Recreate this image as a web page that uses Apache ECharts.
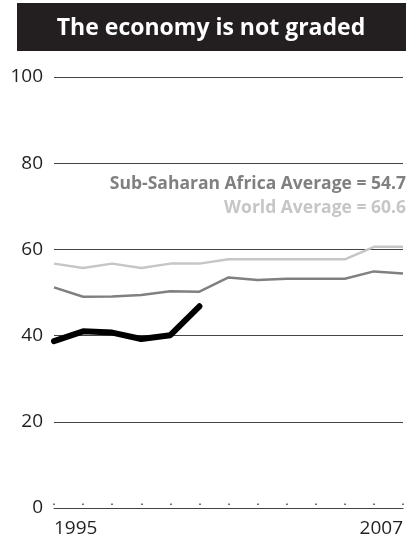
<!DOCTYPE html>
<html>
<head>
<meta charset="utf-8">
<script src="https://cdn.jsdelivr.net/npm/echarts@6/dist/echarts.min.js"></script>
<style>
  html, body { margin: 0; padding: 0; background: #fff; }
  #chart { width: 406px; height: 541px; }
</style>
</head>
<body>
<div id="chart"></div>
<script>
// years on the x axis
var years = ['1995', '1996', '1997', '1998', '1999', '2000', '2001', '2002', '2003', '2004', '2005', '2006', '2007']
// world average score
var worldAvg = [56.7, 55.7, 56.7, 55.7, 56.7, 56.7, 57.7, 57.7, 57.7, 57.7, 57.7, 60.6, 60.6]
// sub-saharan africa average score
var ssaAvg = [51.2, 49.0, 49.1, 49.4, 50.3, 50.2, 53.5, 52.9, 53.2, 53.2, 53.2, 54.9, 54.4]
// the country, only up to 2000
var country = [38.7, 41.0, 40.7, 39.2, 40.1, 46.8, null, null, null, null, null, null, null]
var yTicks = [0, 20, 40, 60, 80, 100]

var myChart = echarts.init(document.getElementById('chart'))

myChart.setOption({
  animation: false,
  textStyle: { fontFamily: 'Open Sans' },
  grid: { left: 54, right: 2, top: 77, bottom: 33, containLabel: false },
  graphic: [
    {
      type: 'rect',
      shape: { x: 17, y: 3, width: 389, height: 48 },
      style: { fill: '#231f20' }
    },
    {
      type: 'text',
      x: 211, y: 28,
      style: {
        text: 'The economy is not graded',
        fill: '#fff',
        font: 'bold 23px "Open Sans"',
        textAlign: 'center',
        textVerticalAlign: 'middle'
      }
    },
    {
      type: 'text',
      x: 406, y: 184,
      style: {
        text: 'Sub-Saharan Africa Average = 54.7',
        fill: '#808080',
        font: 'bold 17.5px "Open Sans"',
        textAlign: 'right',
        textVerticalAlign: 'middle'
      }
    },
    {
      type: 'text',
      x: 406, y: 208,
      style: {
        text: 'World Average = 60.6',
        fill: '#c6c6c6',
        font: 'bold 17.5px "Open Sans"',
        textAlign: 'right',
        textVerticalAlign: 'middle'
      }
    }
  ],
  xAxis: [{
    type: 'category',
    data: years,
    boundaryGap: false,
    axisLine: { lineStyle: { color: '#444', width: 1 } },
    axisTick: { show: false },
    axisLabel: {
      color: '#231f20',
      fontSize: 19,
      margin: 11,
      alignMinLabel: 'left',
      alignMaxLabel: 'right',
      interval: 0,
      formatter: function (v, i) {
        return (i === 0 || i === years.length - 1) ? v : ''
      }
    }
  }, {
    // dotted ticks just above the base line
    type: 'category',
    data: years,
    position: 'bottom',
    offset: -3,
    boundaryGap: false,
    axisLine: { show: false },
    axisTick: { show: true, inside: true, length: 1.5, interval: 0, lineStyle: { color: '#444', width: 1.5 } },
    axisLabel: { show: false }
  }],
  yAxis: {
    type: 'value',
    min: yTicks[0],
    max: yTicks[yTicks.length - 1],
    interval: 20,
    axisLine: { show: false },
    axisTick: { show: false },
    axisLabel: { color: '#231f20', fontSize: 19, margin: 11 },
    splitLine: { lineStyle: { color: '#444', width: 1 } }
  },
  series: [
    {
      name: 'World Average',
      type: 'line',
      data: worldAvg,
      symbol: 'none',
      lineStyle: { color: '#c6c6c6', width: 2.5 }
    },
    {
      name: 'Sub-Saharan Africa Average',
      type: 'line',
      data: ssaAvg,
      symbol: 'none',
      lineStyle: { color: '#808080', width: 2.5 }
    },
    {
      name: 'Country',
      type: 'line',
      data: country,
      symbol: 'none',
      lineStyle: { color: '#000', width: 6, join: 'round', cap: 'round' }
    }
  ]
})

window.addEventListener('resize', function () {
  myChart.resize()
})
</script>
</body>
</html>
